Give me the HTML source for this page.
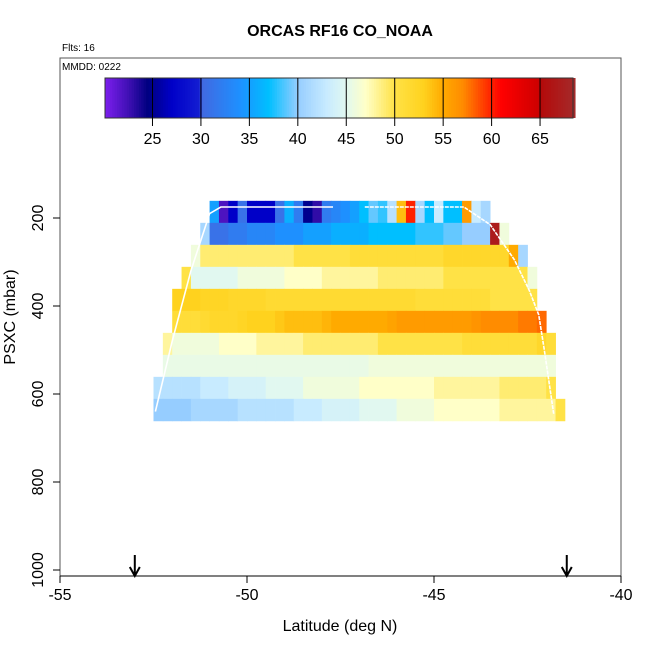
<!DOCTYPE html>
<html><head><meta charset="utf-8"><style>
body{margin:0;background:#fff}
svg{display:block;font-family:"Liberation Sans",sans-serif}
</style></head><body>
<svg id="chart" width="650" height="650" viewBox="0 0 650 650">
<text x="340" y="36" text-anchor="middle" font-size="16" font-weight="bold">ORCAS RF16 CO_NOAA</text>
<text x="62" y="51" font-size="10">Flts: 16</text>
<rect x="60" y="58" width="561" height="518" fill="none" stroke="#555" stroke-width="1"/>
<text x="62" y="70" font-size="10">MMDD: 0222</text>
<g id="colorbar"></g>
<g id="heat"></g>
<g id="track"></g>
<g id="axes"></g>
<text x="340" y="631" text-anchor="middle" font-size="16">Latitude (deg N)</text>
<text transform="translate(15,317) rotate(-90)" text-anchor="middle" font-size="16">PSXC (mbar)</text>
</svg>
<script>
const xTicks=[-55,-50,-45,-40];
const yTicks=[200,400,600,800,1000];
const cbTicks=[25,30,35,40,45,50,55,60,65];
const rowStartLat=[-51.0,-51.25,-51.5,-51.75,-52.0,-52.0,-52.25,-52.25,-52.5,-52.5];
const rowTopP=[161,211,261,311,361,411,461,511,561,611];
const row0=[35,22,27,31,27,27,27,31,36,32,25,23,32,33,34,35,37,39,38,42,54,60,41,37,43,37,37,56,43,41];
const row1=[41,31,31,32,32,33,33,33,34,34,34,35,35,35,36,36,36,36,37,37,37,37,37,38,38,38,39,39,40,40,40,67,46];
const row2=[46,49,49,49,49,49,49,49,49,49,49,50,50,50,50,50,50,51,51,51,51,51,51,51,51,51,51,52,52,52,52,52,52,52,55,41];
const row3=[50,45,45,45,45,45,46,46,46,46,46,47,47,47,47,48,48,48,48,48,48,49,49,49,49,49,49,49,50,50,50,50,50,50,50,50,50,46];
const row4=[53,53,53,52.5,52.5,52.5,52,52,52,52,51.5,51.5,51.5,51.5,51.5,51.5,51.5,51.5,51.5,51.5,51.5,51.5,51.5,51.5,51.5,51.5,51,51,51,51,51,51,51,51,50,50,50,50,50];
const row5=[51,51,51,51.5,52,52,52,52.5,53,53,53,53.5,54,54,54,54,54.5,55,55,55,55,55,55,55.5,56,56,56,56,56,56,56,56,56.5,57,57,57,57,57.5,57.5,58];
const row6=[48,46,46,46,46,46,47,47,47,47,48,48,48,48,48,49,49,49,49,49,49,49,49,50,50,50,50,50,50,50,50,50,51,51,51,51,51,51,51,51,52,51];
const row7=[45.5,45.5,45.5,45.5,45.5,45.5,45.5,45.5,45.5,45.5,45.5,45.5,45.5,45.5,45.5,45.5,45.5,45.5,45.5,45.5,45.5,45.5,46,46,46,46,46,46,46,46,46,46,46,46,46,46,46,46,46,46,46,46];
const row8=[42,42,42,42,42,43,43,43,44,44,44,44,45,45,45,45,46,46,46,46,46,46,47,47,47,47,47,47,47,47,48,48,48,48,48,48,48,49,49,49,49,49,50];
const row9=[40,40,40,40,41,41,41,41,41,42,42,42,42,42,42,43,43,43,44,44,44,44,45,45,45,45,46,46,46,46,47,47,47,47,47,47,47,48,48,48,48,48,48,50];
const rows=[row0,row1,row2,row3,row4,row5,row6,row7,row8,row9];
const trackLat=[-52.45,-52.0,-51.5,-51.0,-50.7,-47.7];
const trackP=[640,480,320,190,175,175];
const trackLat2=[-46.85,-44.2,-43.5,-42.85,-42.45,-42.2,-42.05,-41.8];
const trackP2=[175,175,215,295,365,420,500,645];
const arrowLat=[-53.0,-41.45];
const NS='http://www.w3.org/2000/svg';
const X=v=>60+(v+55)*561/15;
const Y=p=>218+(p-200)*0.44;
const CB=v=>105+(v-20.1)*(573-105)/(68.4-20.1);
const stops=[[20,[127,31,240]],[22.5,[64,16,180]],[24.5,[0,0,128]],[27,[0,0,200]],[29.9,[20,30,210]],[30.1,[65,105,225]],[34,[30,144,255]],[37,[0,191,255]],[40,[150,205,255]],[43,[200,235,255]],[45,[225,248,240]],[47,[255,255,200]],[50,[255,226,70]],[53,[255,210,30]],[55,[255,170,0]],[57,[255,140,0]],[59.5,[255,50,0]],[61,[255,0,0]],[64.9,[205,0,0]],[65.1,[180,10,10]],[68.5,[165,42,42]]];
function col(v){
  if(v<=stops[0][0])return 'rgb('+stops[0][1]+')';
  for(let i=1;i<stops.length;i++){if(v<=stops[i][0]){const a=stops[i-1],b=stops[i];const t=(v-a[0])/(b[0]-a[0]);
    return 'rgb('+a[1].map((c,k)=>Math.round(c+(b[1][k]-c)*t)).join(',')+')';}}
  return 'rgb('+stops[stops.length-1][1]+')';
}
function mk(tag,attrs,parent){const e=document.createElementNS(NS,tag);for(const k in attrs)e.setAttribute(k,attrs[k]);parent.appendChild(e);return e;}
const cb=document.getElementById('colorbar');
for(let v=20.1;v<68.4;v+=0.25){
  const r=mk('rect',{x:CB(v),y:78,width:CB(v+0.25)-CB(v)+0.6,height:40,fill:col(v+0.125)},cb);
  
  
}
mk('rect',{x:105,y:78,width:468,height:40,fill:'none',stroke:'#333'},cb);
cbTicks.forEach(t=>{
  const l=mk('line',{x1:CB(t),x2:CB(t),y1:78,y2:126,stroke:'#000','stroke-width':1},cb);
  
  
  const tx=mk('text',{x:CB(t),y:144,'text-anchor':'middle','font-size':16},cb);tx.textContent=t;
  
  
});
const heat=document.getElementById('heat');
rows.forEach((vals,ri)=>{
  const y0=Y(rowTopP[ri]),y1=Y(rowTopP[ri]+50);
  vals.forEach((v,ci)=>{
    const la=rowStartLat[ri]+ci*0.25;
    const r=mk('rect',{x:X(la),y:y0,width:X(la+0.25)-X(la)+0.4,height:y1-y0+0.4,fill:col(v)},heat);
    
    
  });
});
const tr=document.getElementById('track');
const p1=mk('polyline',{points:trackLat.map((l,i)=>X(l)+','+Y(trackP[i])).join(' '),fill:'none',stroke:'#fff','stroke-width':1.6},tr);


const p2=mk('polyline',{points:trackLat2.map((l,i)=>X(l)+','+Y(trackP2[i])).join(' '),fill:'none',stroke:'#fff','stroke-width':1.6,'stroke-dasharray':'4 1'},tr);


const ax=document.getElementById('axes');
xTicks.forEach(t=>{
  const l=mk('line',{x1:X(t),x2:X(t),y1:576,y2:583,stroke:'#000'},ax);
  
  
  const tx=mk('text',{x:X(t),y:600,'text-anchor':'middle','font-size':16},ax);tx.textContent=t;
  
  
});
yTicks.forEach(t=>{
  const l=mk('line',{x1:53,x2:60,y1:Y(t),y2:Y(t),stroke:'#000'},ax);
  
  
  const tx=mk('text',{transform:'translate(43,'+Y(t)+') rotate(-90)','text-anchor':'middle','font-size':16},ax);tx.textContent=t;
  
  
});
mk('line',{x1:60,x2:621,y1:576,y2:576,stroke:'#000'},ax);
arrowLat.forEach(a=>{
  const g=mk('path',{d:'M'+X(a)+',555 L'+X(a)+',576 M'+(X(a)-5)+',567 L'+X(a)+',576 L'+(X(a)+5)+',567',stroke:'#000','stroke-width':2,fill:'none'},ax);
  
  
});
</script>
</body></html>
